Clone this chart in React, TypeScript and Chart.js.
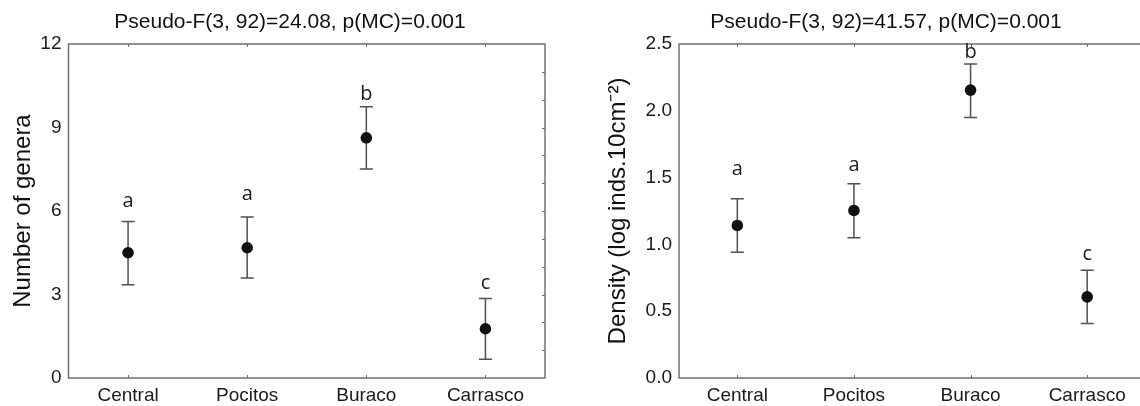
import React, { useEffect, useRef } from "react";
import { Chart, registerables } from "chart.js";

Chart.register(...registerables);

const categories = ["Central", "Pocitos", "Buraco", "Carrasco"];

// Left panel: number of genera
const generaMean = [4.5, 4.68, 8.63, 1.77];
const generaUpper = [5.62, 5.78, 9.75, 2.86];
const generaLower = [3.35, 3.59, 7.51, 0.67];
const generaLetters = ["a", "a", "b", "c"];
const generaLetterValue = [6.14, 6.41, 9.99, 3.19];
const generaTitle = "Pseudo-F(3, 92)=24.08, p(MC)=0.001";
const generaAxisTitle = "Number of genera";

// Right panel: density
const densityMean = [1.142, 1.254, 2.155, 0.607];
const densityUpper = [1.342, 1.454, 2.35, 0.807];
const densityLower = [0.941, 1.05, 1.95, 0.408];
const densityLetters = ["a", "a", "b", "c"];
const densityLetterValue = [1.516, 1.549, 2.394, 0.885];
const densityTitle = "Pseudo-F(3, 92)=41.57, p(MC)=0.001";
const densityAxisTitle = "Density (log inds.10cm\u207B\u00B2)";

const FONT = "'Liberation Sans', Arial, sans-serif";

const decorPlugin = {
  id: "decor",
  beforeDatasetsDraw(chart: any, _args: any, opts: any) {
    const { ctx, chartArea: a, scales } = chart;
    const xs = scales.x;
    const ys = scales.y;
    ctx.save();
    // frame
    ctx.strokeStyle = "#707070";
    ctx.lineWidth = 1.5;
    ctx.strokeRect(a.left, a.top, a.right - a.left, a.bottom - a.top);
    // inward ticks at categories (top and bottom)
    ctx.lineWidth = 1;
    ctx.strokeStyle = "#707070";
    for (let i = 0; i < categories.length; i++) {
      const px = Math.round(xs.getPixelForValue(i)) + 0.5;
      ctx.beginPath();
      ctx.moveTo(px, a.top);
      ctx.lineTo(px, a.top + 3);
      ctx.moveTo(px, a.bottom);
      ctx.lineTo(px, a.bottom - 3);
      ctx.stroke();
    }
    // minor ticks on right edge
    for (let v = opts.minorStep; v < opts.max - 1e-9; v += opts.minorStep) {
      const py = Math.round(ys.getPixelForValue(v)) + 0.5;
      ctx.beginPath();
      ctx.moveTo(a.right, py);
      ctx.lineTo(a.right - 3, py);
      ctx.stroke();
    }
    // error bars
    ctx.strokeStyle = "#505050";
    ctx.lineWidth = 1.5;
    const lower: number[] = opts.lower;
    const upper: number[] = opts.upper;
    for (let i = 0; i < lower.length; i++) {
      const px = xs.getPixelForValue(i);
      const pl = ys.getPixelForValue(lower[i]);
      const pu = ys.getPixelForValue(upper[i]);
      ctx.beginPath();
      ctx.moveTo(px, pl);
      ctx.lineTo(px, pu);
      ctx.moveTo(px - 6.5, pl);
      ctx.lineTo(px + 6.5, pl);
      ctx.moveTo(px - 6.5, pu);
      ctx.lineTo(px + 6.5, pu);
      ctx.stroke();
    }
    // group letters
    ctx.fillStyle = "#1a1a1a";
    ctx.font = "20px 'Open Sans', sans-serif";
    ctx.textAlign = "center";
    ctx.textBaseline = "alphabetic";
    const letters: string[] = opts.letters;
    const lv: number[] = opts.letterValue;
    for (let i = 0; i < letters.length; i++) {
      ctx.fillText(letters[i], xs.getPixelForValue(i), ys.getPixelForValue(lv[i]));
    }
    ctx.restore();
  },
};

function makeConfig(p: {
  mean: number[];
  upper: number[];
  lower: number[];
  letters: string[];
  letterValue: number[];
  title: string;
  axisTitle: string;
  max: number;
  step: number;
  minorStep: number;
  decimals: number;
  yWidth: number;
  rightPad: number;
  axisTitlePad: number;
}): any {
  return {
    type: "line",
    data: {
      labels: categories,
      datasets: [
        {
          data: p.mean,
          showLine: false,
          pointRadius: 5.8,
          pointHoverRadius: 5.8,
          pointBackgroundColor: "#111",
          pointBorderColor: "#111",
          pointBorderWidth: 0,
        },
      ],
    },
    options: {
      responsive: false,
      animation: false,
      devicePixelRatio: 1,
      layout: { padding: 0 },
      events: [],
      plugins: {
        legend: { display: false },
        tooltip: { enabled: false },
        title: {
          display: true,
          text: p.title,
          color: "#111",
          font: { family: FONT, size: 21, weight: "normal", lineHeight: 1.2 },
          padding: { top: 10.1, bottom: 8.7 },
        },
        decor: {
          upper: p.upper,
          lower: p.lower,
          letters: p.letters,
          letterValue: p.letterValue,
          max: p.max,
          minorStep: p.minorStep,
        },
      },
      scales: {
        x: {
          type: "category",
          offset: true,
          grid: { display: false, drawTicks: false },
          border: { display: false },
          ticks: {
            color: "#1a1a1a",
            font: { family: FONT, size: 19 },
            padding: 6,
            autoSkip: false,
            maxRotation: 0,
          },
          afterFit(s: any) {
            s.height = 28;
          },
        },
        y: {
          type: "linear",
          min: 0,
          max: p.max,
          grid: { display: false, drawTicks: false },
          border: { display: false },
          ticks: {
            stepSize: p.step,
            color: "#1a1a1a",
            font: { family: FONT, size: 19 },
            padding: 7,
            callback: (v: number) => v.toFixed(p.decimals),
          },
          title: {
            display: true,
            text: p.axisTitle,
            color: "#111",
            font: { family: FONT, size: 24, lineHeight: 1.2 },
            padding: { top: p.axisTitlePad, bottom: 0 },
          },
          afterFit(s: any) {
            s.width = p.yWidth;
          },
        },
        y2: {
          type: "linear",
          axis: "y",
          position: "right",
          display: true,
          grid: { display: false, drawTicks: false },
          border: { display: false },
          ticks: { display: false },
          afterFit(s: any) {
            s.width = p.rightPad;
          },
        },
      },
    },
    plugins: [decorPlugin],
  };
}

function Panel(props: { config: any; left: number; width: number }) {
  const ref = useRef<HTMLCanvasElement | null>(null);
  useEffect(() => {
    if (!ref.current) return;
    const chart = new Chart(ref.current, props.config);
    return () => chart.destroy();
  }, []);
  return (
    <canvas
      ref={ref}
      width={props.width}
      height={406}
      style={{ position: "absolute", left: props.left, top: 0, width: props.width, height: 406, display: "block" }}
    />
  );
}

export default function App() {
  const leftConfig = makeConfig({
    mean: generaMean,
    upper: generaUpper,
    lower: generaLower,
    letters: generaLetters,
    letterValue: generaLetterValue,
    title: generaTitle,
    axisTitle: generaAxisTitle,
    max: 12,
    step: 3,
    minorStep: 1,
    decimals: 0,
    yWidth: 68.5,
    rightPad: 35,
    axisTitlePad: 8.6,
  });
  const rightConfig = makeConfig({
    mean: densityMean,
    upper: densityUpper,
    lower: densityLower,
    letters: densityLetters,
    letterValue: densityLetterValue,
    title: densityTitle,
    axisTitle: densityAxisTitle,
    max: 2.5,
    step: 0.5,
    minorStep: 0.25,
    decimals: 1,
    yWidth: 109,
    rightPad: 56.5,
    axisTitlePad: 33.6,
  });
  return (
    <div
      style={{
        position: "absolute",
        left: 0,
        top: 0,
        width: 1140,
        height: 406,
        overflow: "hidden",
        background: "#fff",
      }}
    >
      <Panel config={leftConfig} left={0} width={580} />
      <Panel config={rightConfig} left={570} width={632} />
    </div>
  );
}
